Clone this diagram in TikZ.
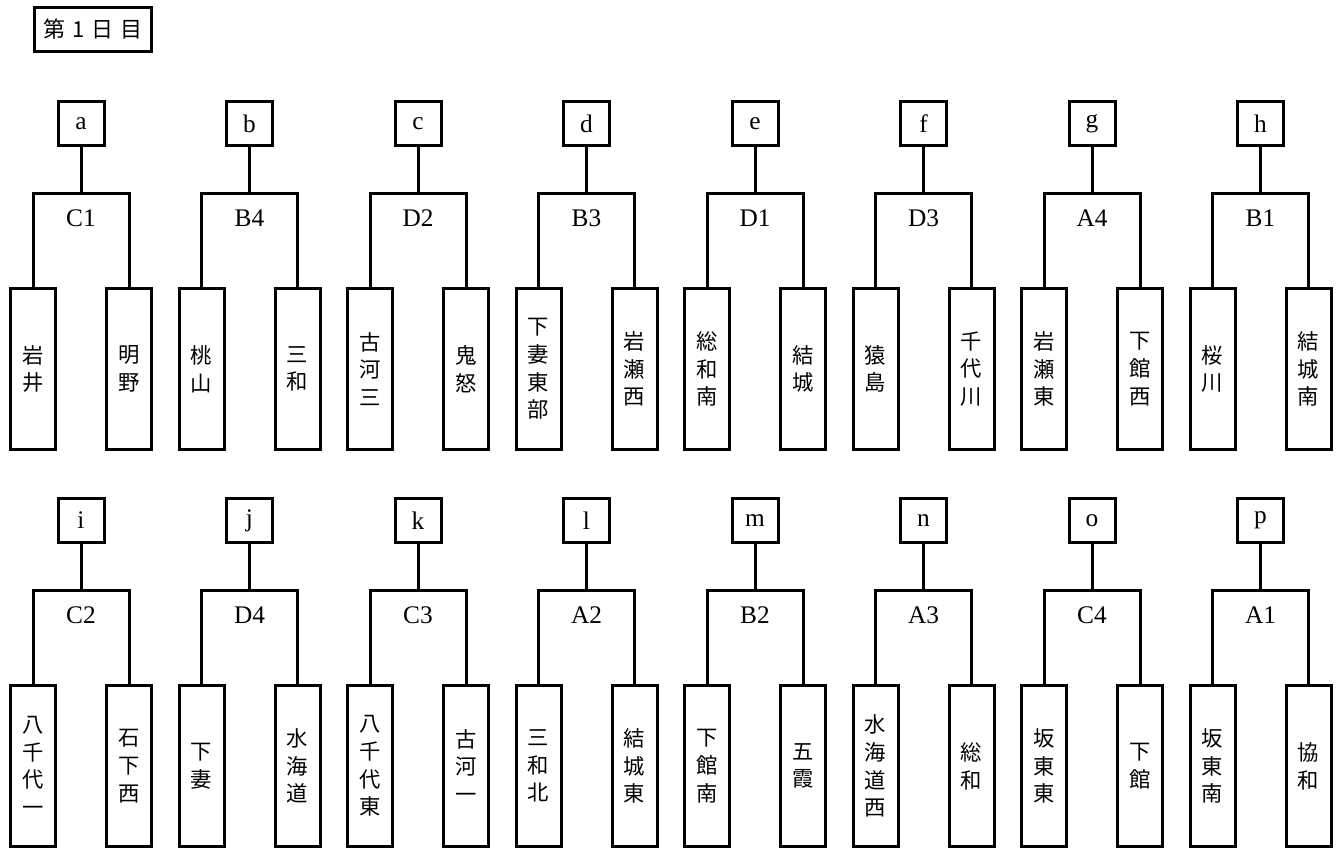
\documentclass[tikz,border=0pt]{standalone}
\usepackage{fontspec}
\setmainfont{Liberation Serif}
\newfontfamily\jp{Noto Sans CJK JP}
\begin{document}
\begin{tikzpicture}[x=0.75pt,y=-0.75pt,
  every path/.style={line width=2.25pt},
  lbox/.style={draw,line width=2.25pt,inner sep=0pt,minimum width=34.5pt,minimum height=33pt,font=\fontsize{19}{22}\selectfont},
  tbox/.style={draw,line width=2.25pt,inner sep=0pt,minimum width=33.75pt,minimum height=120.75pt,align=center,font=\jp\fontsize{16}{20.8}\selectfont},
  titlebox/.style={draw,line width=2.25pt,inner sep=0pt,minimum width=87.75pt,minimum height=33pt,font=\jp\fontsize{16.5}{20}\selectfont},
  seed/.style={inner sep=0pt,font=\fontsize{19}{22}\selectfont}]
\useasboundingbox (0,0) rectangle (1337,848);
\node[titlebox] (title) at (93,29.5) {第\hspace{5pt}1\hspace{5pt}日\hspace{5pt}目};
\foreach \row/\k/\n/\g/\lt/\rt in {
  0/0/a/C1/{岩\\井}/{明\\野},
  0/1/b/B4/{桃\\山}/{三\\和},
  0/2/c/D2/{古\\河\\三}/{鬼\\怒},
  0/3/d/B3/{下\\妻\\東\\部}/{岩\\瀬\\西},
  0/4/e/D1/{総\\和\\南}/{結\\城},
  0/5/f/D3/{猿\\島}/{千\\代\\川},
  0/6/g/A4/{岩\\瀬\\東}/{下\\館\\西},
  0/7/h/B1/{桜\\川}/{結\\城\\南},
  1/0/i/C2/{八\\千\\代\\一}/{石\\下\\西},
  1/1/j/D4/{下\\妻}/{水\\海\\道},
  1/2/k/C3/{八\\千\\代\\東}/{古\\河\\一},
  1/3/l/A2/{三\\和\\北}/{結\\城\\東},
  1/4/m/B2/{下\\館\\南}/{五\\霞},
  1/5/n/A3/{水\\海\\道\\西}/{総\\和},
  1/6/o/C4/{坂\\東\\東}/{下\\館},
  1/7/p/A1/{坂\\東\\南}/{協\\和}}{
  \pgfmathsetmacro{\cx}{81+168.5*\k}
  \pgfmathsetmacro{\dy}{397*\row}
  \node[lbox] (\n) at (\cx,123.5+\dy) {\n};
  \coordinate (\n J) at (\cx,193.5+\dy);
  \node[seed] (\n S) at (\cx,218.5+\dy) {\g};
  \node[tbox] (\n L) at (\cx-48,369+\dy) {\lt};
  \node[tbox] (\n R) at (\cx+48,369+\dy) {\rt};
  \draw (\n.south) -- (\n J);
  \draw (\n L.north) |- (\n J) -| (\n R.north);
}
\end{tikzpicture}
\end{document}
